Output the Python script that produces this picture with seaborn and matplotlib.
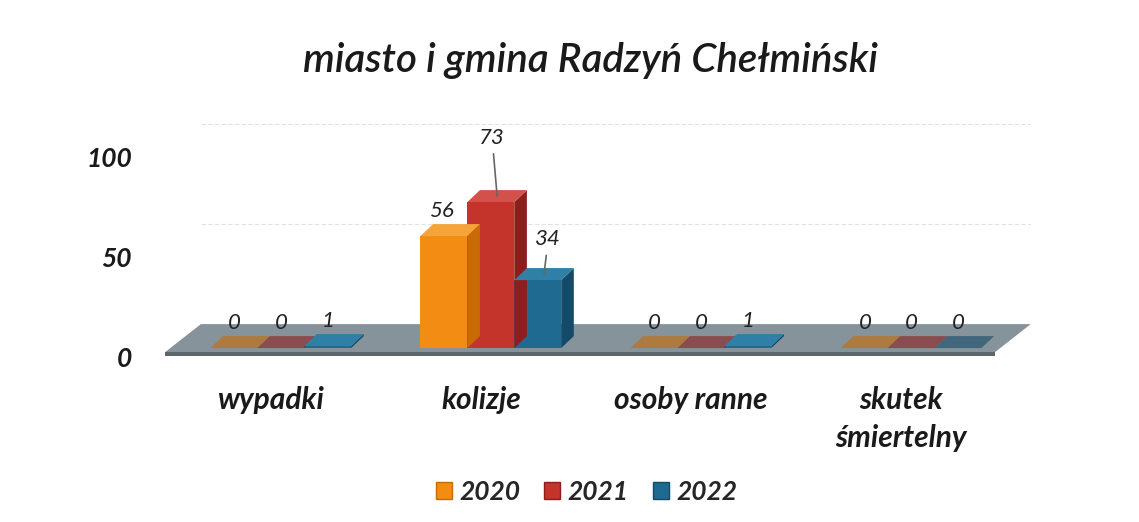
import numpy as np
import pandas as pd
import matplotlib
matplotlib.use("Agg")
import matplotlib.pyplot as plt
from matplotlib.patches import Polygon, Patch
from matplotlib.transforms import ScaledTranslation
import seaborn as sns

categories = ["wypadki", "kolizje", "osoby ranne", "skutek\nśmiertelny"]
years = ["2020", "2021", "2022"]
values_2020 = [0, 56, 0, 0]
values_2021 = [0, 73, 0, 0]
values_2022 = [1, 34, 1, 0]
y_ticks = [0, 50, 100]
title = "miasto i gmina Radzyń Chełmiński"

colors = {"2020": "#f28c12", "2021": "#c4342b", "2022": "#1e6a90"}
side_colors = {"2020": "#c86a05", "2021": "#8c1f1d", "2022": "#134a68"}
top_colors = {"2020": "#f5a43a", "2021": "#d4504a", "2022": "#2f7fa6"}

df = pd.DataFrame({
    "category": categories * 3,
    "year": [y for y in years for _ in categories],
    "value": values_2020 + values_2021 + values_2022,
})

sns.set_theme(style="white")
plt.rcParams["font.family"] = ["Lato", "DejaVu Sans"]

fig = plt.figure(figsize=(11.39, 5.22), dpi=100)
ax = fig.add_axes([0.145, 0.314, 0.76, 0.4598])

sns.barplot(data=df, x="category", y="value", hue="year", palette=colors,
            width=0.67, saturation=1, legend=False, ax=ax, zorder=3, linewidth=0)

ax.set_xlim(-0.55, 3.57)
ax.set_ylim(-5, 115)

# depth of the fake 3D effect (data units)
dx, dy = 0.06, 6

# floor slab
floor = Polygon([(-0.55, -2), (3.40, -2), (3.57, 12), (-0.38, 12)],
                closed=True, facecolor="#87939a", edgecolor="none", zorder=1)
ax.add_patch(floor)
floor_front = Polygon([(-0.55, -4), (3.40, -4), (3.40, -2), (-0.55, -2)],
                      closed=True, facecolor="#5c6769", edgecolor="none", zorder=1)
ax.add_patch(floor_front)

# faint back-wall grid
for t in y_ticks[1:]:
    ax.plot([-0.38, 3.57], [t + 12, t + 12], color="#e2e2e2", lw=0.8, ls=(0, (4, 2)), zorder=0)

label_offsets = {(1, "2020"): (-6.5, 14, False), (1, "2021"): (-3.6, 42, True),
                 (1, "2022"): (3, 25, True)}

for container, yr in zip(ax.containers, years):
    for i, bar in enumerate(container):
        x0, w, h = bar.get_x(), bar.get_width(), bar.get_height()
        if h > 0:
            side = Polygon([(x0 + w, 0), (x0 + w + dx, dy), (x0 + w + dx, h + dy), (x0 + w, h)],
                           closed=True, facecolor=side_colors[yr], edgecolor="none", zorder=3)
            ax.add_patch(side)
            top = Polygon([(x0, h), (x0 + dx, h + dy), (x0 + w + dx, h + dy), (x0 + w, h)],
                          closed=True, facecolor=top_colors[yr], edgecolor="none", zorder=3)
        else:
            top = Polygon([(x0, h), (x0 + dx, h + dy), (x0 + w + dx, h + dy), (x0 + w, h)],
                          closed=True, facecolor=side_colors[yr], edgecolor="none",
                          zorder=3, alpha=0.6)
        ax.add_patch(top)
        ox, oy, line = label_offsets.get((i, yr), (-4, 14, False))
        ax.annotate(f"{h:.0f}", xy=(x0 + w / 2 + dx / 2, h + dy / 2), xytext=(ox, oy),
                    textcoords="offset points", ha="center", va="center",
                    fontsize=16, fontstyle="italic", color="#222222", zorder=5,
                    arrowprops=dict(arrowstyle="-", color="#666666", lw=1.2,
                                    shrinkA=2, shrinkB=0) if line else None)

ax.set_yticks(y_ticks)
ax.set_xticks(range(len(categories)))
ax.tick_params(axis="y", length=0, pad=24)
ax.tick_params(axis="x", length=0, pad=20)
ax.set_yticklabels([str(t) for t in y_ticks], fontsize=19, fontweight="bold",
                   fontstyle="italic", color="#1a1a1a")
ax.set_xticklabels(categories, fontsize=21.5, fontweight="bold", fontstyle="italic",
                   color="#1a1a1a", linespacing=1.45, va="top")
for lab in ax.get_yticklabels():
    lab.set_transform(lab.get_transform() + ScaledTranslation(0, -0.09, fig.dpi_scale_trans))
for lab in ax.get_xticklabels():
    lab.set_transform(lab.get_transform() + ScaledTranslation(-0.1, 0, fig.dpi_scale_trans))
ax.set_xlabel("")
ax.set_ylabel("")
for s in ax.spines.values():
    s.set_visible(False)
ax.grid(False)

fig.text(0.518, 0.885, title, ha="center", va="center", fontsize=29,
         fontstyle="italic", fontweight="semibold", color="#1a1a1a")

handles = [Patch(facecolor=colors[y], edgecolor=side_colors[y]) for y in years]
fig.legend(handles, years, loc="center", bbox_to_anchor=(0.515, 0.058), ncol=3,
           frameon=False, handlelength=0.6, handleheight=0.6, handletextpad=0.3,
           columnspacing=0.9, prop=dict(family="Lato", size=19, weight="bold", style="italic"))

fig.savefig("out.png", dpi=100)
